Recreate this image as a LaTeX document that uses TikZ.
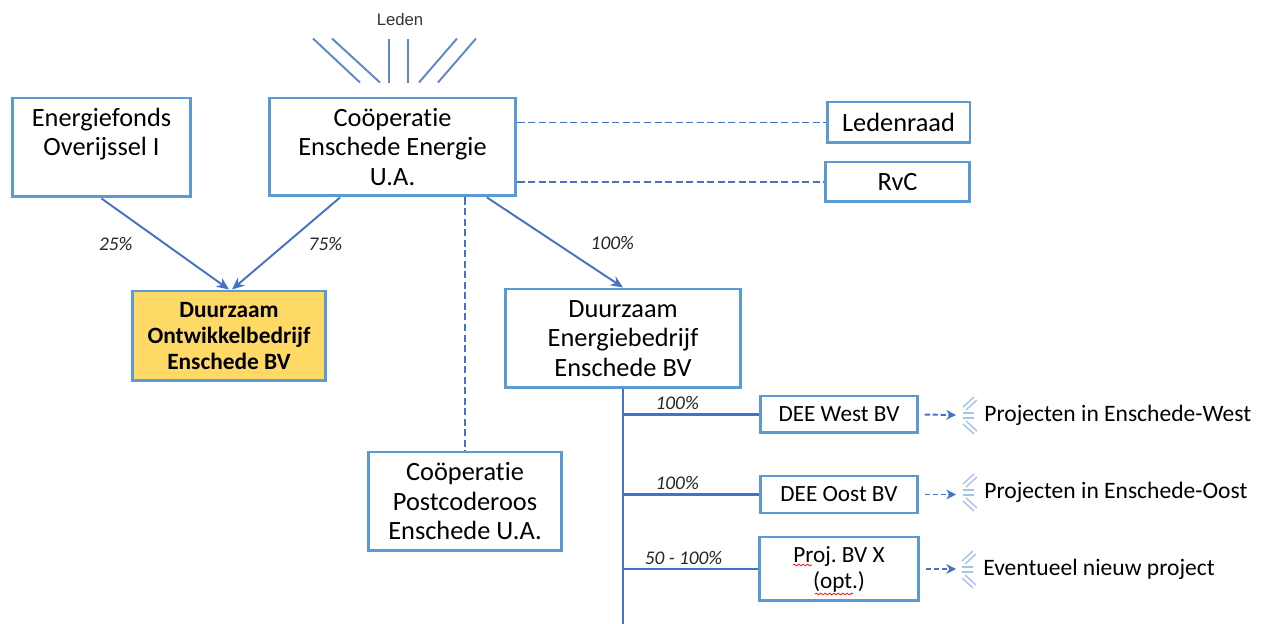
\documentclass[tikz,border=0pt]{standalone}
\usepackage{fontspec}
\setmainfont{Carlito}[Ligatures=NoCommon]
\newfontfamily\ledenfont{Liberation Sans}
\usetikzlibrary{arrows.meta,positioning,calc,decorations.pathmorphing}
\definecolor{boxblue}{HTML}{5B9BD5}
\definecolor{lineblue}{HTML}{4472C4}
\definecolor{fanblue}{HTML}{A9C2E8}
\definecolor{doeyellow}{HTML}{FFD966}
\frenchspacing

\begin{document}
\begin{tikzpicture}[x=0.02cm, y=-0.02cm,
  box/.style={draw=boxblue, line width=1.7pt, align=center, inner sep=0pt, font=\fontsize{15}{16.8}\selectfont},
  sub/.style={draw=boxblue, line width=1.7pt, align=center, inner sep=0pt, font=\fontsize{13.2}{14.8}\selectfont},
  pct/.style={inner sep=1pt, font=\fontsize{11}{13}\selectfont\itshape, text=black!85},
  arr/.style={draw=lineblue, line width=1.1pt, -{Stealth[length=7pt,width=6pt]}},
  conn/.style={draw=lineblue, line width=1.2pt},
  dashline/.style={draw=lineblue, line width=1.1pt, dash pattern=on 4pt off 2pt},
  darr/.style={draw=lineblue, line width=1.1pt, dash pattern=on 3pt off 1.5pt, -{Stealth[length=5.5pt,width=5.5pt]}},
  burst/.style={draw=lineblue!85, line width=1.1pt},
  fan/.style={draw=fanblue, line width=0.8pt},
  proj/.style={anchor=west, inner sep=0pt, font=\fontsize{13.4}{15}\selectfont}]
  \useasboundingbox (0,0) rectangle (1262,624);

  % top row
  \node (ef) [box, minimum width=3.58cm, minimum height=1.98cm, text depth=0.62cm] at (101.5,147.5) {Energiefonds\\Overijssel I};
  \node (cee) [box, minimum width=4.94cm, minimum height=1.96cm] at (392.5,147) {Coöperatie\\Enschede Energie\\U.A.};
  \node (lr) [box, minimum width=2.86cm, minimum height=0.82cm] at (898.5,122.5) {Ledenraad};
  \node (rvc) [box, minimum width=2.9cm, minimum height=0.8cm] at (897.5,182) {RvC};
  \node (leden) [font=\ledenfont\fontsize{9.5}{11}\selectfont, text=black!80] at (400,20) {Leden};

  % middle row
  \node (doe) [box, fill=doeyellow, minimum width=3.88cm, minimum height=1.8cm, font=\fontsize{13.3}{14.8}\selectfont\bfseries] at (229,336) {Duurzaam\\Ontwikkelbedrijf\\Enschede BV};
  \node (dee) [box, minimum width=4.72cm, minimum height=1.98cm] at (623,338.5) {Duurzaam\\Energiebedrijf\\Enschede BV};
  \node (pcr) [box, minimum width=3.88cm, minimum height=1.98cm] at (465,501.5) {Coöperatie\\Postcoderoos\\Enschede U.A.};

  % werkmaatschappijen
  \node (west) [sub, minimum width=3.16cm, minimum height=0.74cm] at (839,414.5) {DEE West BV};
  \node (oost) [sub, minimum width=3.16cm, minimum height=0.74cm] at (839,494.5) {DEE Oost BV};
  \node (projx) [sub, minimum width=3.2cm, minimum height=1.28cm] at (839,569) {Proj. BV X\\(opt.)};

  \node (pw) [proj] at (984,415) {Projecten in Enschede-West};
  \node (po) [proj] at (984,492) {Projecten in Enschede-Oost};
  \node (pn) [proj] at (983,569) {Eventueel nieuw project};
  \coordinate (trunkend) at (623,624);

  % leden
  \foreach \a/\b in {-32.5/-47, -12.5/-48, -3.5/0, 15.5/0, 26.5/38, 45.5/38}
    \draw[burst] ([shift={(\a,-14)}]cee.north) -- ++(\b,-44);

  % deelnemingen
  \draw[arr] (ef.south) -- node[pct, left=0.6cm] {25\%} (doe.north);
  \draw[arr] ([xshift=-1.05cm]cee.south) -- node[pct, right=0.4cm] {75\%} ([xshift=0.06cm]doe.north);
  \draw[arr] ([xshift=1.89cm]cee.south) -- node[pct, right=0.66cm] {100\%} (dee.north);

  \draw[dashline] (lr.west -| cee.east) -- (lr.west);
  \draw[dashline] (rvc.west -| cee.east) -- (rvc.west);
  \draw[dashline] (pcr.north |- cee.south) -- (pcr.north);

  \draw[conn] (dee.south) -- (trunkend);
  \draw[conn] (west.west -| dee.south) -- node[pct, pos=0.4, above=1pt] {100\%} (west.west);
  \draw[conn] (oost.west -| dee.south) -- node[pct, pos=0.4, above=1pt] {100\%} (oost.west);
  \draw[conn] (projx.west -| dee.south) -- node[pct, pos=0.45, above=1pt] {50 - 100\%} (projx.west);

  % projecten
  \draw[darr, shorten <=3pt] (west.east) -- ($(pw.west)+(-28,0)$);
  \draw[darr, shorten <=3pt] (oost.east) -- ($(po.west |- oost.east)+(-28,0)$);
  \draw[darr, shorten <=3pt] (projx.east) -- ($(pn.west)+(-27,0)$);
  \foreach \p in {pw,po,pn} {
    \draw[fan] ([shift={(-21,-8)}]\p.west) -- ++(11,-10);
    \draw[fan] ([shift={(-18,-5)}]\p.west) -- ++(11,-10);
    \draw[fan] ([shift={(-21,-2)}]\p.west) -- ++(11,0);
    \draw[fan] ([shift={(-21,3)}]\p.west) -- ++(11,0);
    \draw[fan] ([shift={(-18,6)}]\p.west) -- ++(11,10);
    \draw[fan] ([shift={(-21,9)}]\p.west) -- ++(11,10);
  }

  % spelling marks
  \draw[red, line width=0.4pt, decorate, decoration={snake, amplitude=0.5pt, segment length=2.5pt}] ([shift={(-46,-4)}]projx.center) -- ++(19,0);
  \draw[red, line width=0.4pt, decorate, decoration={snake, amplitude=0.5pt, segment length=2.5pt}] ([shift={(-24,25)}]projx.center) -- ++(38,0);
\end{tikzpicture}
\end{document}
